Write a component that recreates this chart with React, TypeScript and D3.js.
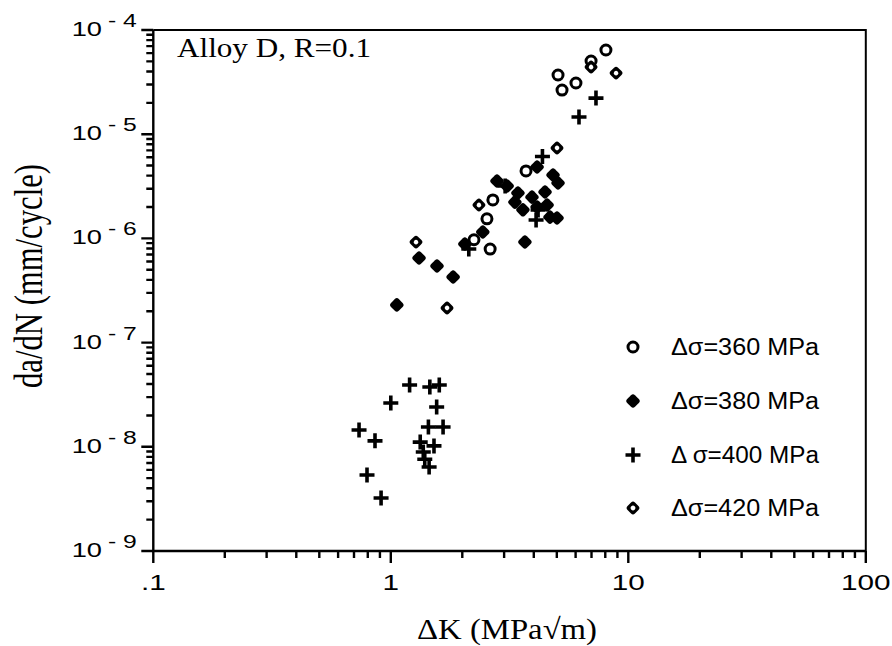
import React from 'react';
import * as d3 from 'd3';

// ---- data (ΔK in MPa√m, da/dN in mm/cycle) ----
const xTickValues = [0.1, 1, 10, 100];
const xTickLabels = ['.1', '1', '10', '100'];
const yTickExponents = [-4, -5, -6, -7, -8, -9];

const s360: [number, number][] = [
  [5.06, 3.7e-5], [5.26, 2.65e-5], [6.02, 3.1e-5], [6.97, 5.04e-5], [8.05, 6.43e-5],
  [3.71, 4.44e-6], [2.69, 2.34e-6], [2.54, 1.54e-6], [2.62, 7.9e-7], [2.24, 9.7e-7],
];
const s380: [number, number][] = [
  [1.06, 2.3e-7], [1.315, 6.49e-7], [1.565, 5.43e-7], [1.83, 4.26e-7], [2.05, 8.83e-7],
  [2.44, 1.15e-6], [2.8, 3.56e-6], [3.09, 3.18e-6], [3.43, 2.73e-6], [3.33, 2.23e-6],
  [3.6, 1.88e-6], [3.93, 2.49e-6], [4.13, 4.84e-6], [4.46, 2.79e-6], [4.82, 4.06e-6],
  [5.06, 3.4e-6], [4.55, 2.09e-6], [5.01, 1.57e-6], [4.68, 1.6e-6], [3.67, 9.22e-7],
  [4.13, 2.0e-6],
];
const s400: [number, number][] = [
  [1.2, 3.92e-8], [1.46, 3.75e-8], [1.6, 3.92e-8], [1.0, 2.63e-8], [1.56, 2.41e-8],
  [1.44, 1.55e-8], [1.66, 1.55e-8], [0.735, 1.45e-8], [0.858, 1.14e-8], [1.33, 1.11e-8],
  [1.52, 1.02e-8], [1.37, 8.9e-9], [1.39, 7.6e-9], [1.45, 6.4e-9], [0.794, 5.36e-9],
  [0.91, 3.23e-9],
  [6.2, 1.46e-5], [7.31, 2.22e-5], [4.35, 6.1e-6], [4.09, 1.5e-6], [2.13, 7.9e-7],
  [3.03, 3.18e-6], [4.17, 1.87e-6],
];
const s420: [number, number][] = [
  [6.97, 4.41e-5], [8.88, 3.86e-5], [5.01, 7.38e-6], [2.35, 2.09e-6], [1.277, 9.22e-7],
  [1.725, 2.15e-7],
];
const legendLabels = ['Δσ=360 MPa', 'Δσ=380 MPa', 'Δ σ=400 MPa', 'Δσ=420 MPa'];

const W = 892, H = 646;
const L = 153.3, R = 865.8, T = 30, B = 551;

const x = d3.scaleLog().domain([0.1, 100]).range([L, R]);
const y = d3.scaleLog().domain([1e-9, 1e-4]).range([B, T]);

const SANS = '"Liberation Sans", Arial, Helvetica, sans-serif';
const SERIF = '"Liberation Serif", "Times New Roman", serif';

function Circle({ cx, cy }: { cx: number; cy: number }) {
  return <circle cx={cx} cy={cy} r={5} fill="#fff" stroke="#000" strokeWidth={3} />;
}
function Diamond({ cx, cy, hole }: { cx: number; cy: number; hole?: boolean }) {
  const s = hole ? 10.5 : 11;
  return (
    <g transform={`translate(${cx},${cy}) rotate(45)`}>
      <rect x={-s / 2} y={-s / 2} width={s} height={s} rx={2.8} fill="#000" />
      {hole && <circle r={2.3} fill="#fff" />}
    </g>
  );
}
function Plus({ cx, cy }: { cx: number; cy: number }) {
  const h = 7.5;
  return (
    <path d={`M${cx - h},${cy}H${cx + h}M${cx},${cy - h}V${cy + h}`} stroke="#000" strokeWidth={3.6} fill="none" />
  );
}

function marker(kind: number, cx: number, cy: number, key: string) {
  if (kind === 0) return <Circle key={key} cx={cx} cy={cy} />;
  if (kind === 1) return <Diamond key={key} cx={cx} cy={cy} />;
  if (kind === 2) return <Plus key={key} cx={cx} cy={cy} />;
  return <Diamond key={key} cx={cx} cy={cy} hole />;
}

export default function App() {
  const minorX: number[] = [];
  for (const d of [0.1, 1, 10]) for (let k = 2; k <= 9; k++) minorX.push(d * k);
  const minorY: number[] = [];
  for (const d of [1e-9, 1e-8, 1e-7, 1e-6, 1e-5]) for (let k = 2; k <= 9; k++) minorY.push(d * k);
  const series = [s360, s380, s400, s420];
  const legendY = [347, 401, 455, 508];

  let tickPath = '';
  xTickValues.forEach((v) => { tickPath += `M${x(v).toFixed(2)},${B}v12`; });
  minorX.forEach((v) => { tickPath += `M${x(v).toFixed(2)},${B}v7`; });
  yTickExponents.forEach((e) => { tickPath += `M${L},${y(Math.pow(10, e)).toFixed(2)}h-12`; });
  minorY.forEach((v) => { tickPath += `M${L},${y(v).toFixed(2)}h-7`; });

  return (
    <svg width={W} height={H} style={{ position: 'absolute', left: 0, top: 0, background: '#fff' }}>
      <rect width={W} height={H} fill="#fff" />
      {/* frame */}
      <path d={`M${L},${T}H${R}V${B}`} fill="none" stroke="#000" strokeWidth={2} />
      <path d={`M${L},${T}V${B}H${R}`} fill="none" stroke="#000" strokeWidth={2.4} />
      {/* ticks */}
      <path d={tickPath} fill="none" stroke="#000" strokeWidth={2.4} />
      {/* x tick labels */}
      {xTickValues.map((v, i) => (
        <text key={'xl' + v} transform={`translate(${x(v)},590) scale(1.35,1)`} textAnchor="middle"
          fontFamily={SANS} fontSize={22} fill="#000">{xTickLabels[i]}</text>
      ))}
      {/* y tick labels */}
      {yTickExponents.map((e) => {
        const yy = y(Math.pow(10, e));
        return (
          <g key={'yl' + e}>
            <text transform={`translate(102,${yy + 6}) scale(1.3,1)`} textAnchor="end"
              fontFamily={SANS} fontSize={21} fill="#000">10</text>
            <text transform={`translate(108,${yy - 3}) scale(1.3,1)`} textAnchor="start"
              fontFamily={SANS} fontSize={19} fill="#000">{'- ' + String(-e)}</text>
          </g>
        );
      })}
      {/* axis titles */}
      <text x={507} y={639} textAnchor="middle" fontFamily={SERIF} fontSize={29}
        textLength={180} lengthAdjust="spacingAndGlyphs" fill="#000">ΔK (MPa√m)</text>
      <text transform="translate(42,276) scale(1.3,1) rotate(-90)" textAnchor="middle"
        fontFamily={SERIF} fontSize={30} textLength={224} lengthAdjust="spacingAndGlyphs"
        fill="#000">da/dN (mm/cycle)</text>
      {/* annotation */}
      <text x={177} y={57} fontFamily={SERIF} fontSize={28} textLength={194}
        lengthAdjust="spacingAndGlyphs" fill="#000">Alloy D, R=0.1</text>
      {/* data */}
      {series.map((s, k) => s.map((d, i) => marker(k, x(d[0]), y(d[1]), `p${k}-${i}`)))}
      {/* legend */}
      {legendLabels.map((lab, k) => (
        <g key={'lg' + k}>
          {marker(k, 633, legendY[k], 'lm' + k)}
          <text x={671} y={legendY[k] + 8} fontFamily={SANS} fontSize={23} textLength={148}
            lengthAdjust="spacingAndGlyphs" fill="#000">{lab}</text>
        </g>
      ))}
    </svg>
  );
}
